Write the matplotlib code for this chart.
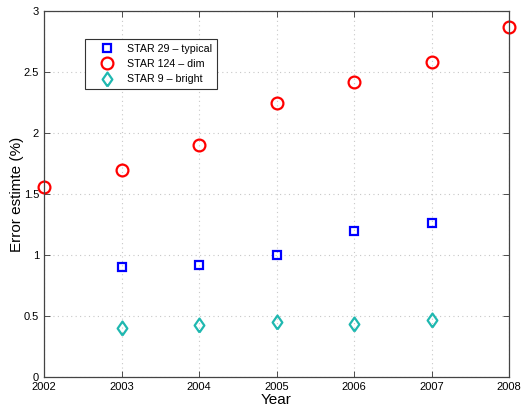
import matplotlib
matplotlib.use('Agg')
from matplotlib import pyplot as plt

plt.rcParams['font.family'] = ['Liberation Sans', 'DejaVu Sans']

# data
years_typical = [2003, 2004, 2005, 2006, 2007]
err_typical = [0.90, 0.92, 1.00, 1.20, 1.265]
years_dim = [2002, 2003, 2004, 2005, 2006, 2007, 2008]
err_dim = [1.555, 1.70, 1.90, 2.245, 2.415, 2.58, 2.87]
years_bright = [2003, 2004, 2005, 2006, 2007]
err_bright = [0.40, 0.425, 0.45, 0.435, 0.465]

# matlab-like diamond, a bit wider than mpl's thin 'd'
diamond = [(0, -1), (0.7, 0), (0, 1), (-0.7, 0), (0, -1)]

fig = plt.figure(figsize=(5.21, 4.07), dpi=100)
ax = fig.add_axes([0.0845, 0.0737, 0.8925, 0.8993])

ax.plot(years_typical, err_typical, 's', ms=5.5, mfc='none', mec='#0000ff', mew=1.6,
        ls='none', label='STAR 29 \u2013 typical', clip_on=False)
ax.plot(years_dim, err_dim, 'o', ms=8.5, mfc='none', mec='#ff0000', mew=1.6,
        ls='none', label='STAR 124 \u2013 dim', clip_on=False)
ax.plot(years_bright, err_bright, marker=diamond, ms=10, mfc='none', mec='#1fb8b0', mew=1.6,
        ls='none', label='STAR 9 \u2013 bright', clip_on=False)

ax.set_xlim(2002, 2008)
ax.set_ylim(0, 3)
ax.set_xticks(range(2002, 2009))
ax.set_yticks([0, 0.5, 1, 1.5, 2, 2.5, 3])
ax.set_yticklabels(['0', '0.5', '1', '1.5', '2', '2.5', '3'])
ax.grid(True, color='#c8c8c8', lw=0.8, dashes=(1, 3))
ax.tick_params(direction='in', top=True, right=True, labelsize=8, length=4, width=0.6,
               colors='#333333', labelcolor='black')
for s in ax.spines.values():
    s.set_linewidth(0.9)
    s.set_color('#444444')

ax.set_xlabel('Year', fontsize=11, labelpad=1)
ax.set_ylabel('Error estimte (%)', fontsize=11, labelpad=0)

leg = ax.legend(loc='upper left', bbox_to_anchor=(0.088, 0.924), fontsize=7.7,
                fancybox=False, edgecolor='#333333', framealpha=1,
                handlelength=3.2, handletextpad=0.3, borderpad=0.45,
                labelspacing=0.5, borderaxespad=0)
leg.get_frame().set_linewidth(0.8)

fig.savefig('out.png', dpi=100)
